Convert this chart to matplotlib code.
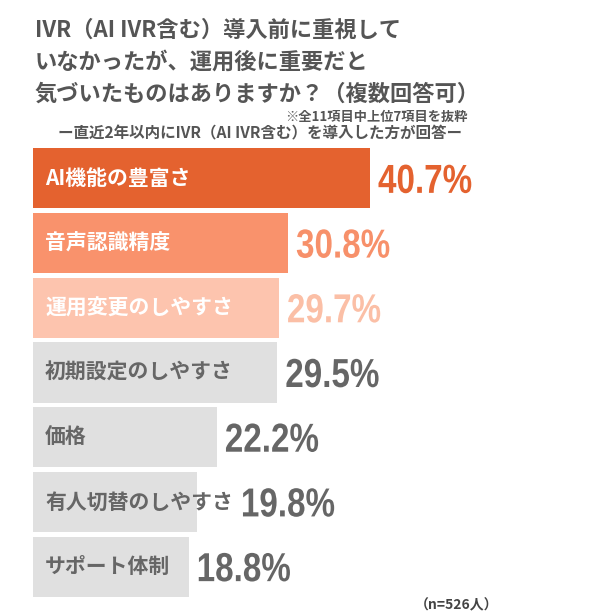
import numpy as np
import matplotlib
matplotlib.use("Agg")
import matplotlib.pyplot as plt
from matplotlib.textpath import TextPath
from matplotlib.patches import PathPatch
from matplotlib.font_manager import FontProperties
from matplotlib.transforms import Affine2D

# ── data ──────────────────────────────────────────────────────────────
labels = ["AI機能の豊富さ", "音声認識精度", "運用変更のしやすさ", "初期設定のしやすさ",
          "価格", "有人切替のしやすさ", "サポート体制"]
values = [40.7, 30.8, 29.7, 29.5, 22.2, 19.8, 18.8]

title = "IVR（AI IVR含む）導入前に重視して\nいなかったが、運用後に重要だと\n気づいたものはありますか？（複数回答可）"
note1 = "※全11項目中上位7項目を抜粋"
note2 = "ー直近2年以内にIVR（AI IVR含む）を導入した方が回答ー"
n_note = "（n=526人）"

bar_colors = ["#E4622F", "#F9926C", "#FDC4AE"] + ["#E0E0E0"] * 4
val_colors = ["#E4622F", "#F7906A", "#FBBFA6"] + ["#666666"] * 4
lab_colors = ["white"] * 3 + ["#666666"] * 4

JP = ["Noto Sans CJK JP", "DejaVu Sans"]
NUM_PROP = FontProperties(family=["Liberation Sans", "DejaVu Sans"], weight="bold")

W, H, DPI = 589, 613, 100
fig = plt.figure(figsize=(W / DPI, H / DPI), dpi=DPI)

# axes placed in pixel terms: bars start at x=33, ~8.28 px per %
PX_PER_PCT = (370 - 33) / 40.7
ax_left, ax_top, ax_bot = 33, 146, 599
ax = fig.add_axes([ax_left / W, 1 - ax_bot / H, (W - ax_left) / W, (ax_bot - ax_top) / H])
ax.set_xlim(0, (W - ax_left) / PX_PER_PCT)
ax.set_ylim(len(values) - 0.5, -0.5)
ax.axis("off")

y = np.arange(len(values))
ax.barh(y, values, height=0.93, color=bar_colors)

# labels inside bars
lab_txt = []
for i, (lab, c) in enumerate(zip(labels, lab_colors)):
    t = ax.annotate(lab, (0, i), xytext=(12 * 72 / DPI, 0), textcoords="offset points",
                    va="center", ha="left", fontsize=15, fontweight="bold",
                    color=c, family=JP)
    lab_txt.append(t)

fig.canvas.draw()
r = fig.canvas.get_renderer()

# value labels (condensed numerals): after bar end, or after the label if it runs past
CAP_PX = 29
EM_PX = CAP_PX / 0.716
for i, (v, c) in enumerate(zip(values, val_colors)):
    bx, by = ax.transData.transform((v, i))
    lab_end = lab_txt[i].get_window_extent(r).x1
    x_disp = max(bx, lab_end) + 8
    tp = TextPath((0, 0), f"{v}%", size=EM_PX, prop=NUM_PROP)
    tr = Affine2D().scale(0.82, 1).translate(x_disp, by - CAP_PX / 2)
    fig.add_artist(PathPatch(tp, transform=tr, facecolor=c, edgecolor="none"))

# title and notes
fig.text(35 / W, 1 - 19 / H, title, ha="left", va="top", fontsize=16,
         fontweight="bold", color="#555555", family=JP, linespacing=1.5)
fig.text(468 / W, 1 - 117 / H, note1, ha="right", va="center", fontsize=9.5,
         fontweight="bold", color="#555555", family=JP)
fig.text(462 / W, 1 - 133 / H, note2, ha="right", va="center", fontsize=11.2,
         fontweight="bold", color="#555555", family=JP)
fig.text(498 / W, 1 - 605 / H, n_note, ha="right", va="center", fontsize=10,
         fontweight="bold", color="#444444", family=JP)

fig.savefig("out.png", dpi=DPI)
